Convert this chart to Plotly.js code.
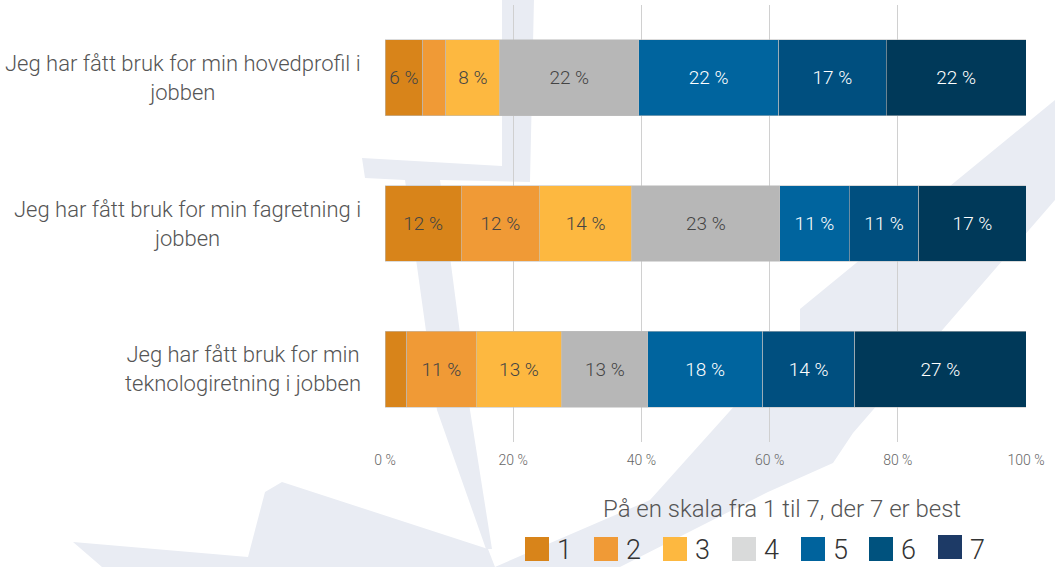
<!DOCTYPE html>
<html>
<head>
<meta charset="utf-8">
<script src="https://cdn.plot.ly/plotly-3.0.1.min.js"></script>
<style>html,body{margin:0;padding:0;background:#fff;}#chart{width:1055px;height:567px;}</style>
</head>
<body>
<div id="chart"></div>
<script>
// ---- data ----
var categories = [
  "Jeg har fått bruk for min hovedprofil i<br>jobben",
  "Jeg har fått bruk for min fagretning i<br>jobben",
  "Jeg har fått bruk for min<br>teknologiretning i jobben"
];
var levels = ["1", "2", "3", "4", "5", "6", "7"];
var level1 = [5.9, 11.9, 3.4];
var level2 = [3.6, 12.2, 10.8];
var level3 = [8.4, 14.4, 13.4];
var level4 = [21.7, 23.1, 13.4];
var level5 = [21.8, 10.8, 17.9];
var level6 = [16.8, 10.9, 14.4];
var level7 = [21.8, 16.7, 26.7];
var xTickVals = [0, 20, 40, 60, 80, 100];
var xTickText = ["0 %", "20 %", "40 %", "60 %", "80 %", "100 %"];
var legendTitle = "På en skala fra 1 til 7, der 7 er best";

// ---- styles ----
var series = [level1, level2, level3, level4, level5, level6, level7];
var barColors = ["#D8841A", "#F09A36", "#FDB840", "#B7B7B7", "#00649E", "#004F7F", "#003959"];
var legendColors = ["#D8841A", "#F09A36", "#FDB840", "#D9DADA", "#00639D", "#00527E", "#1D3A66"];
var textColors = ["#444", "#444", "#444", "#444", "#fff", "#fff", "#fff"];
var FONT = "Roboto, 'Open Sans', sans-serif";

var traces = series.map(function (vals, i) {
  return {
    type: "bar",
    orientation: "h",
    name: levels[i],
    y: categories,
    x: vals,
    text: vals.map(function (v) { return v >= 5 ? Math.round(v) + " %" : ""; }),
    textposition: "inside",
    insidetextanchor: "middle",
    textangle: 0,
    constraintext: "none",
    insidetextfont: { family: FONT, size: 19, color: textColors[i], weight: 300 },
    marker: { color: barColors[i], line: { color: "rgba(190,190,190,0.7)", width: 0.8 } },
    hoverinfo: "x+name"
  };
});

// plot area in pixels: x 385..1026, y 5..442
var L = 385, R = 1026, T = 5, B = 442;
function px(x) { return (x - L) / (R - L); }
function py(y) { return (B - y) / (B - T); }
function poly(pts) {
  return "M" + pts.map(function (p) { return px(p[0]).toFixed(4) + "," + py(p[1]).toFixed(4); }).join(" L") + " Z";
}

var wm = "#E9ECF3";
function wmShape(pts) {
  return { type: "path", xref: "paper", yref: "paper", layer: "below", line: { width: 0 }, fillcolor: wm, path: poly(pts) };
}
var shapes = [
  // top band + bend + downward stroke
  wmShape([[502, 0], [534, 0], [530, 182], [440, 180], [470, 410], [492, 549], [486, 549], [437, 410], [405, 180], [365, 178], [362, 158], [502, 166]]),
  // lower-left wing
  wmShape([[73, 542], [248, 557], [265, 492], [282, 482], [488, 549], [495, 567], [102, 567]]),
  // diagonal band to the right
  wmShape([[1055, 100], [1055, 200], [853, 433], [833, 463], [768, 492], [620, 567], [495, 567], [650, 500], [800, 333], [800, 309]])
];

var annotations = categories.map(function (c) {
  return {
    xref: "paper", yref: "y", x: px(363), y: c, xanchor: "right", yanchor: "middle",
    text: c, showarrow: false, align: "center",
    font: { family: FONT, size: 22, color: "#555", weight: 300 }
  };
});

annotations.push({
  xref: "paper", yref: "paper", x: px(782), y: py(509), xanchor: "center", yanchor: "middle",
  text: legendTitle, showarrow: false,
  font: { family: FONT, size: 24, color: "#555", weight: 300 }
});

var legendX = [525, 594, 663, 732, 801, 869, 938];
levels.forEach(function (lv, i) {
  var x0 = legendX[i], yTop = (i === 6 ? 535 : 537);
  shapes.push({
    type: "rect", xref: "paper", yref: "paper", layer: "above",
    x0: px(x0), x1: px(x0 + 24), y0: py(yTop + 24), y1: py(yTop),
    fillcolor: legendColors[i], line: { width: 0 }
  });
  annotations.push({
    xref: "paper", yref: "paper", x: px(x0 + 30), y: py(550), xanchor: "left", yanchor: "middle",
    text: lv, showarrow: false,
    font: { family: FONT, size: 27, color: "#333", weight: 300 }
  });
});

var layout = {
  width: 1055, height: 567,
  margin: { l: L, r: 1055 - R, t: T, b: 567 - B, pad: 0 },
  barmode: "stack",
  bargap: 0.48,
  showlegend: false,
  paper_bgcolor: "#fff",
  plot_bgcolor: "rgba(0,0,0,0)",
  font: { family: FONT, color: "#555" },
  xaxis: {
    range: [0, 100], tickvals: xTickVals, ticktext: xTickText,
    showgrid: true, gridcolor: "#D0D0D0", gridwidth: 1, zeroline: false,
    showline: false, ticks: "", ticklabelstandoff: 8,
    tickfont: { family: FONT, size: 14, color: "#666", weight: 300 },
    fixedrange: true
  },
  yaxis: {
    type: "category", autorange: "reversed", showticklabels: false,
    showgrid: false, zeroline: false, showline: false, ticks: "", fixedrange: true
  },
  shapes: shapes,
  annotations: annotations
};

Plotly.newPlot("chart", traces, layout, { displayModeBar: false, staticPlot: true });
</script>
</body>
</html>
